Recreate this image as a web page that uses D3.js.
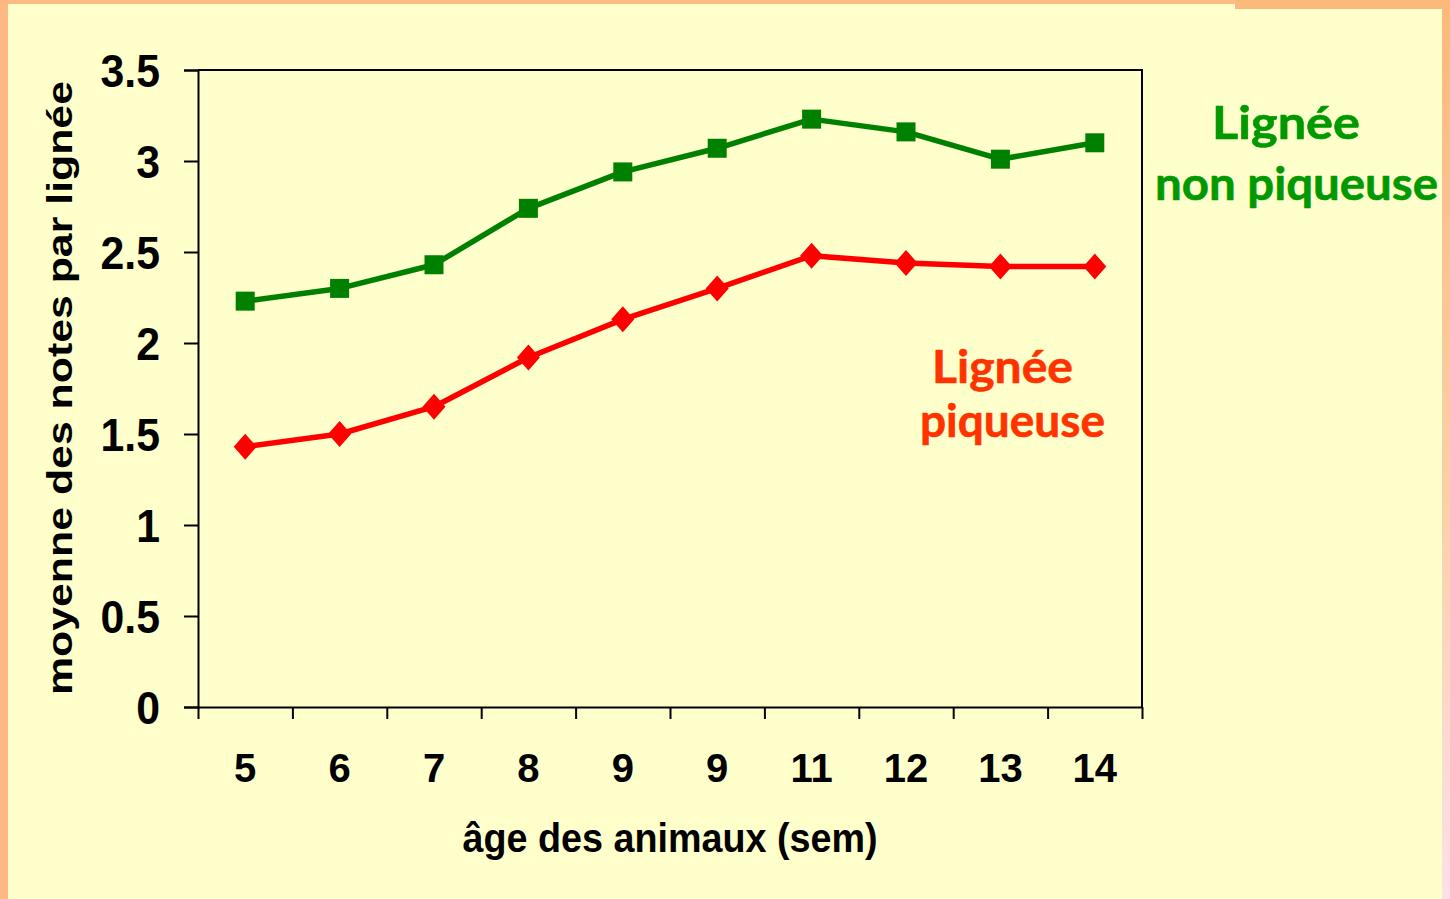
<!DOCTYPE html>
<html>
<head>
<meta charset="utf-8">
<script src="https://cdn.jsdelivr.net/npm/d3@7"></script>
<style>
  html, body { margin: 0; padding: 0; background: #FFFFCC; }
  svg { display: block; }
</style>
</head>
<body>
<svg id="chart" width="1450" height="899"></svg>
<script>
// Age in weeks (as labelled on the axis)
const ageLabels = ["5", "6", "7", "8", "9", "9", "11", "12", "13", "14"];
// Mean score per line
const nonPiqueuse = [2.23, 2.30, 2.43, 2.74, 2.94, 3.07, 3.23, 3.16, 3.01, 3.10];
const piqueuse    = [1.43, 1.50, 1.65, 1.92, 2.13, 2.30, 2.48, 2.44, 2.42, 2.42];
const yTicks = [0, 0.5, 1, 1.5, 2, 2.5, 3, 3.5];

const W = 1450, H = 899;
const svg = d3.select("#chart");

// Slide frame: pale yellow page with an orange edge
const defs = svg.append("defs");
const grad = defs.append("linearGradient").attr("id", "edgeGrad")
  .attr("x1", 0).attr("y1", 0).attr("x2", 0).attr("y2", 1);
grad.append("stop").attr("offset", "0%").attr("stop-color", "#FBB97C");
grad.append("stop").attr("offset", "55%").attr("stop-color", "#FCCFA8");
grad.append("stop").attr("offset", "100%").attr("stop-color", "#FFE0E8");

svg.append("rect").attr("width", W).attr("height", H).attr("fill", "#FFFFCC");
svg.append("rect").attr("x", 0).attr("y", 0).attr("width", W).attr("height", 4).attr("fill", "#FBBB82");
svg.append("rect").attr("x", 1235).attr("y", 0).attr("width", W - 1235).attr("height", 9).attr("fill", "#FBB97C");
svg.append("rect").attr("x", 0).attr("y", 0).attr("width", 8).attr("height", H).attr("fill", "#FDB883");
svg.append("rect").attr("x", 1442).attr("y", 0).attr("width", 8).attr("height", H).attr("fill", "url(#edgeGrad)");

// Plot area
const x0 = 198, x1 = 1142, y0 = 707, y1 = 70;

const x = d3.scaleBand().domain(d3.range(ageLabels.length)).range([x0, x1]).paddingInner(0).paddingOuter(0);
const xEdge = d3.scaleLinear().domain([0, ageLabels.length]).range([x0, x1]);
const y = d3.scaleLinear().domain([0, 3.5]).range([y0, y1]);

const axisFont = "'Liberation Sans', Arial, sans-serif";

// Frame: top and right edges
svg.append("path")
  .attr("d", `M${x0},${y1}H${x1}V${y0}`)
  .attr("fill", "none").attr("stroke", "#000").attr("stroke-width", 2);

// Y axis
const gy = svg.append("g").attr("transform", `translate(${x0},0)`)
  .call(d3.axisLeft(y).tickValues(yTicks).tickFormat(d3.format("")).tickSize(14).tickPadding(24));
gy.select(".domain").attr("stroke-width", 2);
gy.selectAll(".tick line").attr("stroke-width", 2);
gy.selectAll(".tick text")
  .attr("font-family", axisFont).attr("font-weight", "bold").attr("font-size", 46)
  .attr("fill", "#000").attr("dy", "0.36em")
  .attr("transform", "scale(0.93,1)")
  .attr("x", -38 / 0.93);

// X axis: tick marks at band edges
const gx = svg.append("g").attr("transform", `translate(0,${y0})`)
  .call(d3.axisBottom(xEdge).tickValues(d3.range(ageLabels.length + 1)).tickFormat("").tickSize(12).tickSizeOuter(0));
gx.select(".domain").attr("stroke-width", 2);
gx.selectAll(".tick line").attr("stroke-width", 2);

// X axis: category labels at band centres
const gxl = svg.append("g").attr("transform", `translate(0,${y0})`)
  .call(d3.axisBottom(x).tickFormat(i => ageLabels[i]).tickSize(0).tickPadding(47));
gxl.select(".domain").remove();
gxl.selectAll(".tick text")
  .attr("font-family", axisFont).attr("font-weight", "bold").attr("font-size", 40)
  .attr("fill", "#000");

// Axis titles
svg.append("text")
  .attr("x", 670).attr("y", 852)
  .attr("text-anchor", "middle")
  .attr("font-family", axisFont).attr("font-weight", "bold").attr("font-size", 40)
  .attr("textLength", 415).attr("lengthAdjust", "spacingAndGlyphs")
  .text("âge des animaux (sem)");

svg.append("text")
  .attr("transform", "translate(72,388) rotate(-90)")
  .attr("text-anchor", "middle")
  .attr("font-family", axisFont).attr("font-weight", "bold").attr("font-size", 35)
  .attr("textLength", 614).attr("lengthAdjust", "spacingAndGlyphs")
  .text("moyenne des notes par lignée");

// Series
const line = d3.line().x((d, i) => x(i) + x.bandwidth() / 2).y(d => y(d));

svg.append("path").datum(nonPiqueuse)
  .attr("d", line).attr("fill", "none").attr("stroke", "#008000").attr("stroke-width", 5.5)
  .attr("stroke-linejoin", "round");
svg.append("path").datum(piqueuse)
  .attr("d", line).attr("fill", "none").attr("stroke", "#FF0000").attr("stroke-width", 5.5)
  .attr("stroke-linejoin", "round");

// Square markers
const sq = 19;
svg.append("g").selectAll("rect").data(nonPiqueuse).join("rect")
  .attr("x", (d, i) => x(i) + x.bandwidth() / 2 - sq / 2)
  .attr("y", d => y(d) - sq / 2)
  .attr("width", sq).attr("height", sq)
  .attr("fill", "#008000");

// Diamond markers
const dw = 11.5, dh = 13;
svg.append("g").selectAll("path").data(piqueuse).join("path")
  .attr("transform", (d, i) => `translate(${x(i) + x.bandwidth() / 2},${y(d)})`)
  .attr("d", `M0,${-dh}L${dw},0L0,${dh}L${-dw},0Z`)
  .attr("fill", "#FF0000");

// Series labels
const labelFont = "'Comic Sans MS', Lato, 'Open Sans', sans-serif";
const green = svg.append("g").attr("font-family", labelFont).attr("font-weight", 700)
  .attr("font-size", 46).attr("fill", "#009900")
  .attr("stroke", "#009900").attr("stroke-width", 0.6).attr("stroke-linejoin", "round");
green.append("text").attr("x", 1212).attr("y", 139).attr("textLength", 148).attr("lengthAdjust", "spacingAndGlyphs").text("Lignée");
green.append("text").attr("x", 1155).attr("y", 200).attr("textLength", 283).attr("lengthAdjust", "spacingAndGlyphs").text("non piqueuse");

const red = svg.append("g").attr("font-family", labelFont).attr("font-weight", 700)
  .attr("font-size", 46).attr("fill", "#FF3300")
  .attr("stroke", "#FF3300").attr("stroke-width", 0.6).attr("stroke-linejoin", "round");
red.append("text").attr("x", 932).attr("y", 383).attr("textLength", 141).attr("lengthAdjust", "spacingAndGlyphs").text("Lignée");
red.append("text").attr("x", 920).attr("y", 437).attr("textLength", 185).attr("lengthAdjust", "spacingAndGlyphs").text("piqueuse");
</script>
</body>
</html>
